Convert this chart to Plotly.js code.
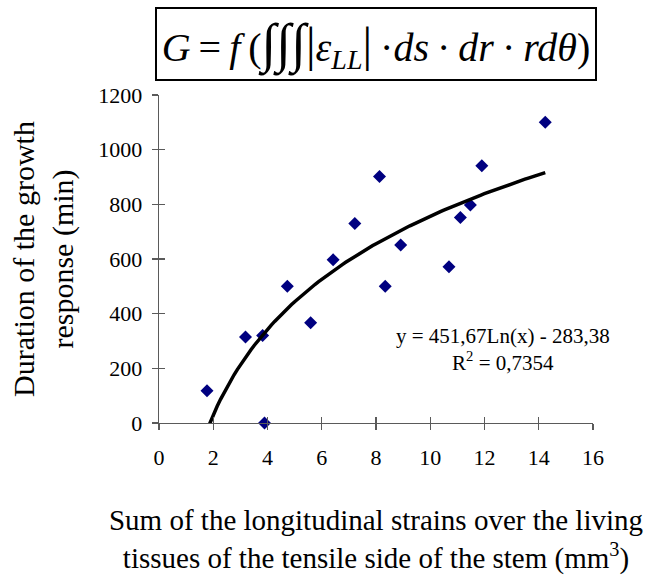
<!DOCTYPE html>
<html>
<head>
<meta charset="utf-8">
<script src="https://cdn.plot.ly/plotly-3.0.1.min.js"></script>
<style>html,body{margin:0;padding:0;background:#fff;}#chart{width:651px;height:575px;}</style>
</head>
<body>
<div id="chart"></div>
<script>
// Data
const strainSum = [1.77, 3.19, 3.82, 3.89, 4.73, 5.59, 6.42, 7.22, 8.13, 8.34, 8.91, 10.69, 11.11, 11.48, 11.90, 14.24];
const growthDuration = [118, 315, 320, 0, 500, 367, 597, 730, 902, 500, 651, 572, 752, 798, 941, 1100];

// Logarithmic trendline coefficients shown on the chart
const trendA = 451.67;
const trendB = -283.38;
const trendLabel = "y = 451,67Ln(x) - 283,38";
const r2Label = "R<sup>2</sup> = 0,7354";

const xTickVals = [0, 2, 4, 6, 8, 10, 12, 14, 16];
const yTickVals = [0, 200, 400, 600, 800, 1000, 1200];

// trendline across the data range
const xMin = Math.min(...strainSum), xMax = Math.max(...strainSum);
const trendX = [], trendY = [];
for (let i = 0; i <= 100; i++) {
  const x = xMin + (xMax - xMin) * i / 100;
  trendX.push(x);
  trendY.push(trendA * Math.log(x) + trendB);
}

const serif = "Liberation Serif, Times New Roman, serif";
const axisColor = "#5a5a5a";
const ts = "\u2009"; // thin space

const traces = [
  {
    x: strainSum, y: growthDuration, type: "scatter", mode: "markers",
    marker: {symbol: "diamond", size: 10, color: "#000080"},
    showlegend: false, cliponaxis: false
  },
  {
    x: trendX, y: trendY, type: "scatter", mode: "lines",
    line: {color: "#000000", width: 3.5}, showlegend: false, cliponaxis: false
  },
  {
    x: strainSum, y: growthDuration, xaxis: "x2", yaxis: "y2", type: "scatter", mode: "markers",
    marker: {opacity: 0}, hoverinfo: "skip", showlegend: false
  }
];

const axBase = {
  showgrid: false, zeroline: false, showline: true, linecolor: axisColor, linewidth: 1.3,
  ticks: "outside", ticklen: 6, tickwidth: 1.3, tickcolor: axisColor,
  tickfont: {family: serif, size: 22, color: "#000"}
};

const formula = "<i>G</i>" + ts + "=" + ts + "<i>f</i>" + ts + "(" +
  "<span style=\"font-size:54px\">∫∫∫</span><span style=\"font-size:48px\">|</span>" +
  "<i>ε</i><sub><i>LL</i></sub><span style=\"font-size:48px\">|</span>" + ts +
  "·<i>ds</i>" + ts + "·" + ts + "<i>dr</i>" + ts + "·" + ts + "<i>rdθ</i>)";

const layout = {
  width: 651, height: 575,
  margin: {l: 159.3, r: 58.3, t: 94.7, b: 151.7},
  paper_bgcolor: "#fff", plot_bgcolor: "#fff",
  font: {family: serif, color: "#000"},
  xaxis: Object.assign({}, axBase, {
    range: [0, 16], tickvals: xTickVals, ticklabelstandoff: 8,
    title: {text: "Sum of the longitudinal strains over the living<br>tissues of the tensile side of the stem (mm<sup>3</sup>)",
            font: {family: serif, size: 29}, standoff: 42}
  }),
  yaxis: Object.assign({}, axBase, {
    range: [0, 1200], tickvals: yTickVals, ticklabelstandoff: 5,
    title: {text: "Duration of the growth<br>response (min)", font: {family: serif, size: 30}, standoff: 15}
  }),
  xaxis2: {overlaying: "x", range: [0, 16], tickvals: xTickVals, ticks: "inside", ticklen: 6, tickwidth: 1.3,
           tickcolor: axisColor, showticklabels: false, showgrid: false, zeroline: false, showline: false, side: "bottom", anchor: "y2"},
  yaxis2: {overlaying: "y", range: [0, 1200], tickvals: yTickVals, ticks: "inside", ticklen: 6, tickwidth: 1.3,
           tickcolor: axisColor, showticklabels: false, showgrid: false, zeroline: false, showline: false, side: "left", anchor: "x2"},
  annotations: [
    {
      xref: "paper", yref: "paper", x: 0.5, y: 1.156, xanchor: "center", yanchor: "middle",
      text: formula,
      showarrow: false, font: {family: serif, size: 40, color: "#000"},
      bordercolor: "#000", borderwidth: 2, width: 436, height: 68, bgcolor: "#fff"
    },
    {
      xref: "x", yref: "y", x: 12.7, y: 268, xanchor: "center", yanchor: "middle",
      text: trendLabel + "<br>" + r2Label, showarrow: false,
      font: {family: serif, size: 21, color: "#000"}
    }
  ]
};

Plotly.newPlot("chart", traces, layout, {displayModeBar: false, staticPlot: true});
</script>
</body>
</html>
